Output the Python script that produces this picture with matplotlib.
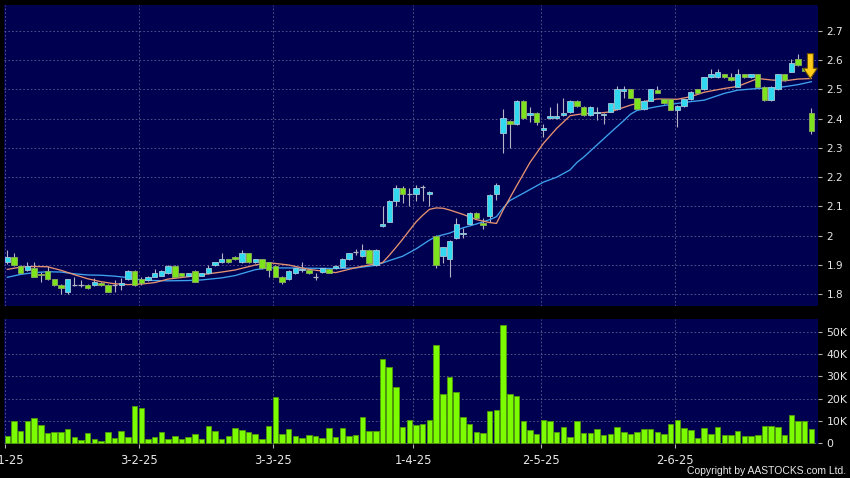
import numpy as np
import matplotlib
matplotlib.use('Agg')
import matplotlib.pyplot as plt
from matplotlib.patches import FancyArrow
from matplotlib.ticker import FixedLocator, FuncFormatter

# daily candles, index 0 = first trading day of Jan 2025
opens = [1.909, 1.928, 1.896, 1.883, 1.889, 1.870, 1.881, 1.851, 1.832, 1.809,
         1.832, 1.832, 1.832, 1.832, 1.840, 1.832, 1.832, 1.832, 1.851, 1.881,
         1.851, 1.849, 1.860, 1.863, 1.872, 1.898, 1.872, 1.863, 1.880, 1.863,
         1.872, 1.900, 1.909, 1.919, 1.928, 1.909, 1.940, 1.909, 1.919, 1.909,
         1.898, 1.860, 1.851, 1.872, 1.883, 1.883, 1.860, 1.875, 1.888, 1.889,
         1.892, 1.919, 1.945, 1.931, 1.951, 1.900, 2.033, 2.048, 2.120, 2.162,
         2.142, 2.142, 2.167, 2.142, 1.999, 1.931, 1.919, 1.991, 2.005, 2.040,
         2.079, 2.042, 2.067, 2.141, 2.350, 2.392, 2.381, 2.461, 2.412, 2.420,
         2.361, 2.401, 2.401, 2.412, 2.421, 2.461, 2.441, 2.412, 2.418, 2.412,
         2.424, 2.432, 2.495, 2.500, 2.469, 2.432, 2.461, 2.498, 2.466, 2.466,
         2.429, 2.443, 2.466, 2.500, 2.500, 2.541, 2.541, 2.551, 2.541, 2.509,
         2.551, 2.541, 2.551, 2.509, 2.463, 2.500, 2.551, 2.560, 2.602, 2.572,
         2.420]
closes = [1.928, 1.900, 1.872, 1.898, 1.860, 1.866, 1.851, 1.832, 1.820, 1.851,
          1.832, 1.832, 1.820, 1.843, 1.832, 1.809, 1.832, 1.840, 1.881, 1.832,
          1.840, 1.860, 1.872, 1.880, 1.898, 1.860, 1.863, 1.872, 1.843, 1.872,
          1.889, 1.909, 1.919, 1.909, 1.919, 1.940, 1.909, 1.919, 1.889, 1.883,
          1.860, 1.841, 1.880, 1.889, 1.886, 1.872, 1.860, 1.889, 1.873, 1.898,
          1.921, 1.940, 1.945, 1.951, 1.908, 1.951, 2.040, 2.120, 2.162, 2.142,
          2.142, 2.162, 2.167, 2.150, 1.900, 1.960, 1.983, 2.040, 2.010, 2.079,
          2.059, 2.038, 2.139, 2.173, 2.401, 2.381, 2.461, 2.401, 2.420, 2.389,
          2.369, 2.410, 2.410, 2.420, 2.461, 2.443, 2.412, 2.441, 2.422, 2.416,
          2.452, 2.500, 2.500, 2.471, 2.432, 2.461, 2.500, 2.489, 2.452, 2.431,
          2.443, 2.466, 2.492, 2.488, 2.541, 2.551, 2.560, 2.541, 2.532, 2.551,
          2.541, 2.551, 2.509, 2.463, 2.509, 2.551, 2.532, 2.591, 2.583, 2.563,
          2.359]
highs = [1.951, 1.940, 1.899, 1.911, 1.911, 1.877, 1.897, 1.853, 1.834, 1.853,
         1.860, 1.849, 1.834, 1.855, 1.843, 1.834, 1.849, 1.855, 1.883, 1.883,
         1.860, 1.862, 1.886, 1.882, 1.900, 1.900, 1.874, 1.874, 1.882, 1.874,
         1.900, 1.911, 1.940, 1.921, 1.930, 1.951, 1.942, 1.921, 1.921, 1.911,
         1.900, 1.862, 1.882, 1.891, 1.909, 1.885, 1.872, 1.891, 1.890, 1.900,
         1.923, 1.942, 1.953, 1.972, 1.953, 1.953, 2.101, 2.122, 2.173, 2.170,
         2.162, 2.173, 2.173, 2.152, 2.001, 1.962, 1.985, 2.059, 2.025, 2.081,
         2.081, 2.059, 2.141, 2.179, 2.432, 2.394, 2.463, 2.463, 2.441, 2.422,
         2.381, 2.441, 2.452, 2.469, 2.463, 2.463, 2.443, 2.443, 2.441, 2.420,
         2.454, 2.511, 2.511, 2.502, 2.471, 2.463, 2.502, 2.511, 2.468, 2.468,
         2.445, 2.468, 2.494, 2.502, 2.543, 2.571, 2.571, 2.553, 2.557, 2.571,
         2.553, 2.553, 2.553, 2.511, 2.511, 2.553, 2.553, 2.602, 2.620, 2.574,
         2.435]
lows = [1.905, 1.898, 1.870, 1.881, 1.858, 1.843, 1.849, 1.830, 1.800, 1.802,
        1.830, 1.826, 1.818, 1.830, 1.830, 1.807, 1.809, 1.815, 1.849, 1.830,
        1.832, 1.847, 1.858, 1.861, 1.870, 1.858, 1.861, 1.861, 1.841, 1.861,
        1.870, 1.898, 1.907, 1.907, 1.917, 1.907, 1.907, 1.907, 1.887, 1.860,
        1.858, 1.835, 1.849, 1.870, 1.877, 1.870, 1.849, 1.873, 1.871, 1.887,
        1.890, 1.917, 1.934, 1.929, 1.906, 1.898, 2.031, 2.046, 2.101, 2.111,
        2.101, 2.120, 2.120, 2.101, 1.889, 1.908, 1.860, 1.989, 1.991, 2.038,
        2.057, 2.022, 2.048, 2.122, 2.281, 2.300, 2.379, 2.399, 2.389, 2.378,
        2.338, 2.399, 2.399, 2.410, 2.419, 2.441, 2.410, 2.410, 2.395, 2.381,
        2.422, 2.430, 2.470, 2.469, 2.430, 2.430, 2.459, 2.487, 2.450, 2.429,
        2.370, 2.441, 2.464, 2.486, 2.498, 2.539, 2.539, 2.539, 2.530, 2.507,
        2.539, 2.539, 2.507, 2.461, 2.461, 2.498, 2.530, 2.558, 2.581, 2.561,
        2.347]

# volume in thousands of shares
volumes = [3.3, 10.0, 5.7, 9.9, 11.3, 8.2, 4.5, 5.1, 5.1, 6.4,
           2.7, 1.5, 4.5, 1.8, 1.0, 5.1, 2.2, 5.7, 2.7, 16.6,
           15.7, 1.8, 3.0, 5.1, 1.9, 3.4, 2.1, 2.7, 4.0, 2.1,
           7.8, 5.7, 2.1, 3.4, 6.9, 6.0, 5.1, 4.2, 2.1, 7.8,
           20.9, 4.2, 6.6, 3.4, 2.2, 3.7, 3.4, 2.2, 6.9, 2.7,
           6.7, 3.1, 3.6, 11.9, 5.7, 5.5, 37.6, 34.0, 25.1, 7.5,
           10.6, 8.2, 8.5, 10.4, 43.9, 21.9, 29.9, 23.0, 11.6, 8.5,
           5.1, 4.8, 14.3, 14.8, 52.8, 22.1, 21.3, 10.1, 6.1, 4.3,
           10.3, 9.9, 5.2, 7.2, 3.0, 9.9, 4.5, 4.5, 6.3, 3.6,
           4.2, 7.5, 5.1, 4.0, 5.2, 6.4, 6.4, 5.1, 4.3, 8.5,
           10.6, 6.9, 6.0, 2.5, 6.7, 4.2, 7.3, 3.7, 3.7, 5.5,
           3.1, 3.1, 3.7, 7.6, 7.9, 7.3, 3.7, 12.7, 9.9, 9.9,
           6.6]

# moving averages
ma_short_idx = [0, 2, 4, 6, 8, 10, 12, 14, 16, 18, 20, 22, 24, 27, 29, 32, 34,
                37, 39, 42, 45, 49, 52, 54, 56, 57, 58, 59, 60, 61, 62, 63, 64,
                65, 66, 68, 70, 72, 73, 74, 76, 78, 80, 82, 84, 86, 88, 90, 93,
                95, 97, 100, 102, 104, 107, 109, 111, 112, 114, 116, 118, 120]
ma_short = [1.885, 1.893, 1.895, 1.894, 1.882, 1.867, 1.853, 1.843, 1.836,
            1.833, 1.835, 1.840, 1.852, 1.860, 1.867, 1.876, 1.883, 1.900,
            1.908, 1.900, 1.885, 1.874, 1.891, 1.900, 1.908, 1.933, 1.960,
            1.988, 2.018, 2.047, 2.070, 2.090, 2.095, 2.094, 2.088, 2.073,
            2.055, 2.045, 2.042, 2.088, 2.170, 2.250, 2.315, 2.367, 2.410,
            2.417, 2.418, 2.423, 2.446, 2.458, 2.467, 2.466, 2.475, 2.490,
            2.503, 2.510, 2.528, 2.537, 2.532, 2.529, 2.535, 2.537]
ma_long_idx = [0, 2, 4, 6, 8, 10, 12, 14, 16, 18, 20, 22, 24, 27, 29, 32, 34,
               37, 39, 42, 45, 49, 52, 55, 57, 59, 61, 63, 64, 66, 68, 70, 72,
               73, 74, 75, 77, 80, 82, 84, 85, 86, 88, 90, 92, 93, 94, 97, 100,
               102, 104, 107, 109, 112, 114, 116, 118, 120]
ma_long = [1.858, 1.868, 1.874, 1.877, 1.876, 1.870, 1.866, 1.865, 1.862,
           1.857, 1.849, 1.847, 1.846, 1.847, 1.849, 1.856, 1.864, 1.884,
           1.890, 1.890, 1.889, 1.888, 1.890, 1.899, 1.915, 1.930, 1.955,
           1.985, 1.997, 2.009, 2.027, 2.040, 2.055, 2.065, 2.095, 2.120,
           2.145, 2.183, 2.200, 2.225, 2.250, 2.268, 2.310, 2.352, 2.393,
           2.415, 2.428, 2.441, 2.452, 2.458, 2.463, 2.486, 2.497, 2.503,
           2.504, 2.509, 2.516, 2.526]

tick_idx = [0, 20, 40, 61, 80, 100]
tick_labels = ['2-1-25', '3-2-25', '3-3-25', '1-4-25', '2-5-25', '2-6-25']
price_ticks = [1.8, 1.9, 2.0, 2.1, 2.2, 2.3, 2.4, 2.5, 2.6, 2.7]
vol_ticks = [0, 10, 20, 30, 40, 50]

# marker arrow above the last candles
arrow_idx = 119.85
arrow_from = 2.622
arrow_to = 2.536

BG = '#000050'
GRID = '#5e5e90'
TXT = '#e8e8e8'
UP = '#30d8f0'
DOWN = '#7de31c'

W, H = 850, 478
fig = plt.figure(figsize=(W / 100, H / 100), dpi=100, facecolor='black')
ax_p = fig.add_axes([3.5 / W, 1 - 306 / H, 814.5 / W, 301 / H])
ax_v = fig.add_axes([3.5 / W, 1 - 444 / H, 814.5 / W, 125 / H])

x = np.arange(len(opens))
o = np.array(opens)
c = np.array(closes)
up = c > o
down = c < o
flat = c == o

for ax in (ax_p, ax_v):
    ax.set_facecolor(BG)
    for s in ax.spines.values():
        s.set_visible(False)
    ax.set_xlim(-0.57, 120.99)
    ax.set_axisbelow(True)
    ax.xaxis.set_major_locator(FixedLocator(np.array(tick_idx) - 0.4))
    ax.grid(True, color=GRID, linestyle=(0, (2, 2.5)), linewidth=0.6)
    ax.yaxis.tick_right()
    ax.tick_params(axis='y', length=3, width=0.8, color='#b0b0b0',
                   labelcolor=TXT, pad=3)

# price panel
ax_p.vlines(x, lows, highs, color='#b4b4c4', linewidth=0.8, zorder=2)
ax_p.plot(ma_short_idx, ma_short, color='#e69270', linewidth=0.95, zorder=2.5)
ax_p.plot(ma_long_idx, ma_long, color='#3fa2ee', linewidth=0.95, zorder=2.4)
ax_p.bar(x[up], (c - o)[up], bottom=o[up], width=0.8, color=UP,
         edgecolor='#a4c8d8', linewidth=0.6, zorder=3)
ax_p.bar(x[down], (o - c)[down], bottom=c[down], width=0.8, color=DOWN,
         edgecolor='#8cac5c', linewidth=0.6, zorder=3)
ax_p.hlines(o[flat], x[flat] - 0.4, x[flat] + 0.4, color='#b4b4c4',
            linewidth=0.9, zorder=3)
ax_p.add_patch(FancyArrow(arrow_idx, arrow_from, 0, arrow_to - arrow_from,
                          width=0.9, head_width=2.1, head_length=0.036,
                          length_includes_head=True, facecolor='#ffcc1a',
                          edgecolor='#6b5000', linewidth=0.8, zorder=5))
ax_p.set_ylim(1.760, 2.788)
ax_p.yaxis.set_major_locator(FixedLocator(price_ticks))
ax_p.yaxis.set_major_formatter(FuncFormatter(lambda v, p: f'{v:g}'))
ax_p.tick_params(axis='y', labelsize=7.5)
ax_p.tick_params(axis='x', length=0, labelbottom=False)

# volume panel
ax_v.bar(x, np.array(volumes) * 1000, width=0.82, color='#7cfc00',
         edgecolor='#4f9a08', linewidth=0.6, zorder=3)
ax_v.set_ylim(-300, 55700)
ax_v.yaxis.set_major_locator(FixedLocator([v * 1000 for v in vol_ticks]))
ax_v.yaxis.set_major_formatter(
    FuncFormatter(lambda v, p: '0' if v == 0 else f'{int(v / 1000)}K'))
ax_v.tick_params(axis='y', labelsize=7.8)
ax_v.set_xticklabels(tick_labels)
ax_v.tick_params(axis='x', length=3, width=0.8, color='#b0b0b0',
                 labelcolor=TXT, labelsize=8.3, pad=4)

fig.text(846 / W, 1 - 471 / H, 'Copyright by AASTOCKS.com Ltd.',
         ha='right', va='center', color=TXT, fontsize=7.5,
         family='Liberation Sans')

fig.savefig('out.png', dpi=100, facecolor='black')
